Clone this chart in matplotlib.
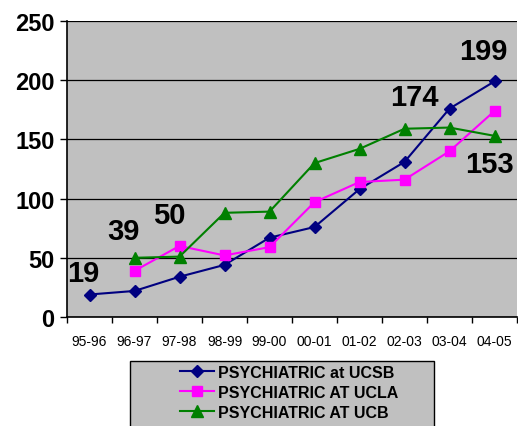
import matplotlib
matplotlib.use('Agg')
import matplotlib.pyplot as plt
from matplotlib.patches import Rectangle

plt.rcParams['font.family'] = ['Liberation Sans', 'DejaVu Sans']

years = ['95-96', '96-97', '97-98', '98-99', '99-00',
         '00-01', '01-02', '02-03', '03-04', '04-05']
ucsb = [19, 22, 34, 44, 67, 76, 108, 131, 176, 199]
ucla = [None, 39, 60, 52, 59, 97, 114, 116, 140, 174]
ucb = [None, 50, 51, 88, 89, 130, 142, 159, 160, 153]

fig = plt.figure(figsize=(5.18, 4.27), dpi=100)
ax = fig.add_axes([67 / 518, 1 - 318 / 427, 450 / 518, 296 / 427])
ax.set_facecolor('#C0C0C0')

x = list(range(len(years)))


def clean(vals):
    return [float('nan') if v is None else v for v in vals]


ax.plot(x, clean(ucsb), '-D', color='#000080', lw=1.5, ms=6.5,
        label='PSYCHIATRIC at UCSB', zorder=3)
ax.plot(x, clean(ucla), '-s', color='#FF00FF', lw=1.5, ms=7.5,
        label='PSYCHIATRIC AT UCLA', zorder=3)
ax.plot(x, clean(ucb), '-^', color='#008000', lw=1.5, ms=8.5,
        label='PSYCHIATRIC AT UCB', zorder=3)

# value labels on first / last points, placed by pixel offsets
lab = dict(fontsize=21, fontweight='bold', ha='center', va='center',
           textcoords='offset pixels')
ax.annotate(str(ucsb[0]), (0, ucsb[0]), xytext=(-6, 22), **lab)
ax.annotate(str(ucla[1]), (1, ucla[1]), xytext=(-11, 40), **lab)
ax.annotate(str(ucb[1]), (1, ucb[1]), xytext=(35, 43), **lab)
ax.annotate(str(ucla[9]), (9, ucla[9]), xytext=(-80, 14), **lab)
ax.annotate(str(ucsb[9]), (9, ucsb[9]), xytext=(-11, 30), **lab)
ax.annotate(str(ucb[9]), (9, ucb[9]), xytext=(-5, -28), **lab)

ax.set_xlim(-0.5, 9.5)
ax.set_ylim(0, 250)
ax.set_yticks(range(0, 251, 50))
ax.tick_params(axis='y', labelsize=17, length=5, width=1, direction='out', pad=4)
for t in ax.get_yticklabels():
    t.set_fontweight('bold')

ax.set_xticks([i - 0.5 for i in range(len(years) + 1)])
ax.set_xticklabels([])
ax.set_xticks(x, minor=True)
ax.set_xticklabels(years, minor=True, fontsize=10)
ax.tick_params(axis='x', which='major', length=4, width=1, direction='out')
ax.tick_params(axis='x', which='minor', length=0, pad=12)

ax.grid(axis='y', color='black', lw=0.9, zorder=1)
ax.set_axisbelow(True)
ax.spines['top'].set_visible(False)
ax.spines['right'].set_visible(False)
ax.spines['left'].set_linewidth(1.2)
ax.spines['bottom'].set_linewidth(1.2)

# legend box, runs off the bottom of the image
box = Rectangle((130 / 518, -0.1), 304 / 518, 0.1 + 65 / 427,
                transform=fig.transFigure, facecolor='#C0C0C0',
                edgecolor='black', lw=1)
fig.add_artist(box)
fig.legend(loc='upper left', bbox_to_anchor=(180 / 518, 1 - 366 / 427),
           frameon=False, prop={'size': 11.5, 'weight': 'bold'},
           handlelength=2.1, handletextpad=0.25, labelspacing=0.3,
           borderpad=0, borderaxespad=0)

fig.savefig('out.png', dpi=100)
